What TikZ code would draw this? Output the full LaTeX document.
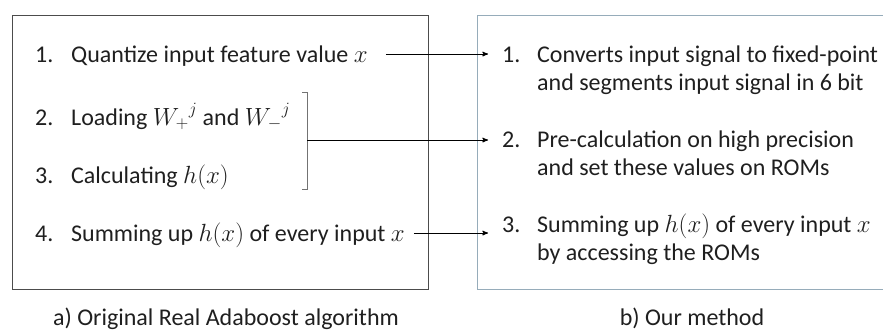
\documentclass[tikz,border=0pt]{standalone}
\usepackage{fontspec}
\setmainfont{Carlito}
\usetikzlibrary{arrows}
\definecolor{framebl}{RGB}{150,172,186}

\newcommand{\itm}[2]{\makebox[36pt][l]{#1}#2}

\begin{document}
\begin{tikzpicture}[x=1pt,y=-1pt,>=stealth',
                    item node/.style={anchor=base west,inner sep=0pt,text height=16pt,text depth=0pt,
                                      font=\fontsize{24}{28.5}\selectfont,text=black!88},
                    right node/.style={anchor=base west,inner sep=0pt,
                                       font=\fontsize{24}{28.5}\selectfont,text=black!88},
                    cap node/.style={anchor=base,inner sep=0pt,font=\fontsize{24}{28}\selectfont,text=black!88},
                    link/.style={->,line width=1pt}]
  \useasboundingbox (0,0) rectangle (883,335);
  % the two frames
  \draw[black!70,line width=1pt] (12,15) rectangle (428,289);
  \draw[framebl,line width=1pt] (477,15) rectangle (895,289);
  % left list
  \node[item node] (l1) at (35,62)  {\itm{1.}{Quantize input feature value $x$}};
  \node[item node] (l2) at (35,125) {\itm{2.}{Loading ${W_{+}}^{j}$ and ${W_{-}}^{j}$}};
  \node[item node] (l3) at (35,183) {\itm{3.}{Calculating $h(x)$}};
  \node[item node] (l4) at (35,241) {\itm{4.}{Summing up $h(x)$ of every input $x$}};
  \draw[black!55,line width=0.8pt] (302,92) -- (307,92) -- (307,189) -- (302,189);
  \coordinate (brk) at (307,140);
  % right list
  \node[right node] (r1) at (502,62)  {\begin{tabular}[t]{@{}p{35pt}@{}l@{}}
      1. & Converts input signal to fixed-point\\ & and segments input signal in 6 bit\end{tabular}};
  \node[right node] (r2) at (502,147) {\begin{tabular}[t]{@{}p{35pt}@{}l@{}}
      2. & Pre-calculation on high precision\\ & and set these values on ROMs\end{tabular}};
  \node[right node] (r3) at (502,232) {\begin{tabular}[t]{@{}p{35pt}@{}l@{}}
      3. & Summing up $h(x)$ of every input $x$\\ & by accessing the ROMs\end{tabular}};
  % connectors
  \path[link]
    (l1.east) edge[shorten <=18pt,shorten >=14pt] (l1.east -| r1.west)
    (brk)     edge[shorten >=14pt] (brk -| r2.west)
    (l4.east) edge[shorten <=9pt,shorten >=14pt] (l4.east -| r3.west);
  % captions
  \node[cap node] (capa) at (226,325) {a) Original Real Adaboost algorithm};
  \node[cap node] (capb) at (692,325) {b) Our method};
\end{tikzpicture}
\end{document}
